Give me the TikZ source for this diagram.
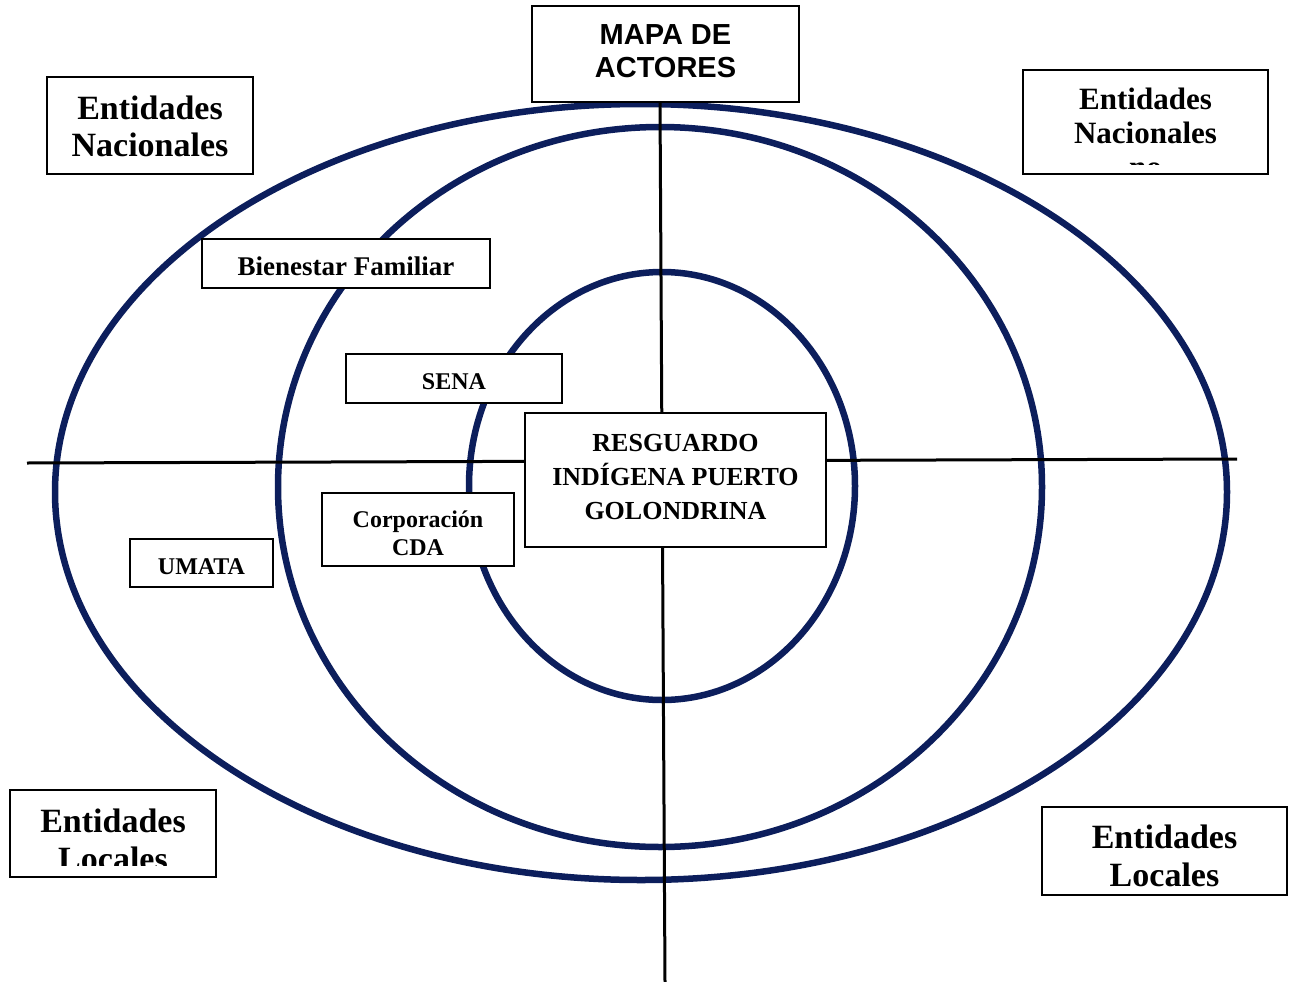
\documentclass[tikz,border=0pt]{standalone}
\usepackage{fontspec}
\setmainfont{Liberation Serif}
\setsansfont{Liberation Sans}
\definecolor{navy}{RGB}{12,30,92}
\tikzset{
  ring/.style={draw=navy, line width=6.5pt},
  axis/.style={draw=black, line width=3pt},
  box/.style={draw=black, line width=2pt, fill=white, inner sep=0pt, outer sep=0pt},
  lbl/.style={align=center, inner sep=0pt, font=\bfseries},
}
\newcommand{\fs}[2]{\fontsize{#1}{#2}\selectfont}
\begin{document}
\begin{tikzpicture}[x=1pt,y=-1pt]
\useasboundingbox (0,0) rectangle (1290,982);
% rings
\draw[ring] (641,492) ellipse [x radius=586, y radius=388];
\draw[ring] (660,487) ellipse [x radius=382, y radius=360];
\draw[ring] (662,486) ellipse [x radius=193, y radius=214];
% axes
\coordinate (hl) at (27,463);
\coordinate (hr) at (1237,459);
\coordinate (vt) at (660,102);
\coordinate (vb) at (665,982);
\draw[axis] (hl) -- (hr);
\draw[axis] (vt) -- (vb);
% boxes
\node[box, minimum width=267pt, minimum height=96pt] (mapa) at (665.5,54)
  {\sffamily\bfseries\fs{29}{33}\begin{tabular}{c}MAPA DE\\ACTORES\end{tabular}};
\node[box, minimum width=206pt, minimum height=97pt] (nac1) at (150,125.5) {};
\node[lbl, font=\bfseries\fs{34}{37}] at (150,126) {Entidades\\Nacionales};
\node[box, minimum width=245pt, minimum height=104pt] (nac2) at (1145.5,122) {};
\begin{scope}
  \clip ([shift={(2,2)}]nac2.north west) rectangle ([shift={(-2,-10)}]nac2.south east);
  \node[lbl, font=\bfseries\fs{31}{34}] at (1145.5,133) {Entidades\\Nacionales\\no};
\end{scope}
\node[box, minimum width=288pt, minimum height=49pt] (bien) at (346,263.5) {};
\node[lbl, font=\bfseries\fs{27}{30}] at (346,266.5) {Bienestar Familiar};
\node[box, minimum width=216pt, minimum height=49pt] (sena) at (454,378.5) {};
\node[lbl, font=\bfseries\fs{24}{28}] at (454,381.5) {SENA};
\node[box, minimum width=301pt, minimum height=134pt] (resg) at (675.5,480) {};
\node[lbl, font=\bfseries\fs{26}{34}] at (675.5,477) {RESGUARDO\\INDÍGENA PUERTO\\GOLONDRINA};
\node[box, minimum width=192pt, minimum height=73pt] (cda) at (418,529.5) {};
\node[lbl, font=\bfseries\fs{24}{28}] at (418,533) {Corporación\\CDA};
\node[box, minimum width=143pt, minimum height=48pt] (umata) at (201.5,563) {};
\node[lbl, font=\bfseries\fs{24}{28}] at (201.5,566.5) {UMATA};
\node[box, minimum width=206pt, minimum height=87pt] (loc1) at (113,833.5) {};
\begin{scope}
  \clip ([shift={(2,2)}]loc1.north west) rectangle ([shift={(-2,-12)}]loc1.south east);
  \node[lbl, font=\bfseries\fs{34}{38}] at (113,840) {Entidades\\Locales};
\end{scope}
\node[box, minimum width=245pt, minimum height=88pt] (loc2) at (1164.5,851) {};
\node[lbl, font=\bfseries\fs{34}{38}] at (1164.5,856) {Entidades\\Locales};
\end{tikzpicture}
\end{document}
